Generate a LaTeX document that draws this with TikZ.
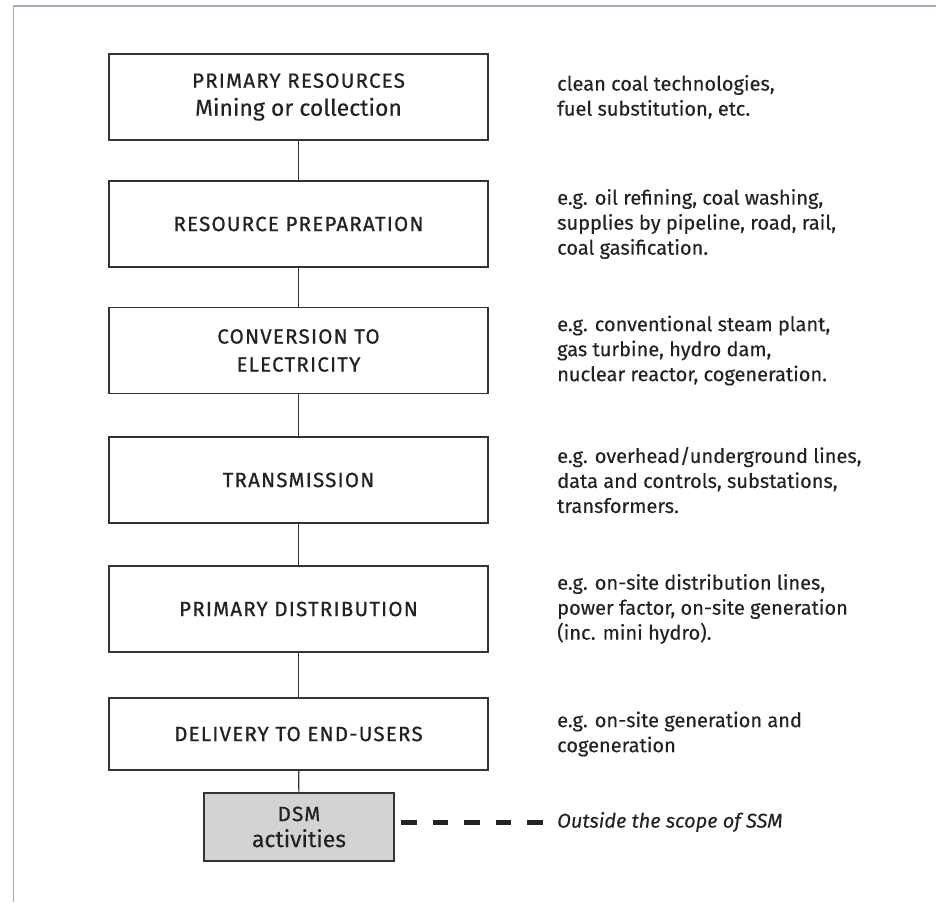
\documentclass[tikz,border=0pt]{standalone}
\usepackage{fontspec}
\setmainfont{Fira Sans}[FakeBold=0.25]
\newfontfamily\capsfont{Fira Sans}[LetterSpace=6,FakeBold=0.8]
\definecolor{framec}{HTML}{A9A5C3}
\definecolor{boxline}{HTML}{333333}
\definecolor{txt}{HTML}{222222}
\definecolor{dsmfill}{HTML}{D3D3D5}
\newcommand{\capsln}[1]{{\capsfont\fontsize{20.5}{28}\selectfont #1}}
\newcommand{\bigln}[1]{{\fontsize{23}{28}\selectfont #1}}
\begin{document}
\begin{tikzpicture}[x=1pt,y=-1pt,
  stage/.style={draw=boxline, line width=1.3pt, minimum width=379pt, minimum height=86pt,
    inner sep=0pt, align=center, text=txt, font=\fontsize{20.5}{28}\selectfont},
  note/.style={anchor=west, align=left, inner sep=0pt, text=txt, font=\fontsize{20}{25}\selectfont},
  conn/.style={draw=boxline, line width=1.1pt},
  framel/.style={draw=framec, line width=1.6pt},
  dashln/.style={draw=txt, line width=5pt, dash pattern=on 15.5pt off 16.1pt}]
\useasboundingbox (0,0) rectangle (936,902);
\draw[framel] (13.5,902) -- (13.5,5.7) -- (936,5.7);

\node[stage] (b1) at (298.5,97) {\capsln{PRIMARY RESOURCES}\\\bigln{Mining or collection}};
\node[stage] (b2) at (298.5,224) {\capsln{RESOURCE PREPARATION}};
\node[stage] (b3) at (298.5,350.5) {\capsln{CONVERSION TO}\\\capsln{ELECTRICITY}};
\node[stage] (b4) at (298.5,480) {\capsln{TRANSMISSION}};
\node[stage] (b5) at (298.5,609) {\capsln{PRIMARY DISTRIBUTION}};
\node[stage, minimum height=72pt] (b6) at (298.5,734) {\capsln{DELIVERY TO END-USERS}};
\node[stage, fill=dsmfill, minimum width=190pt, minimum height=68pt, font=\fontsize{20.5}{26}\selectfont] (dsm) at (299,827) {\capsln{DSM}\\\bigln{activities}};

\draw[conn] (b1) -- (b2);
\draw[conn] (b2) -- (b3);
\draw[conn] (b3) -- (b4);
\draw[conn] (b4) -- (b5);
\draw[conn] (b5) -- (b6);
\draw[conn] (b6) -- (dsm);

\node[note] (n1) at (557,97) {clean coal technologies,\\fuel substitution, etc.};
\node[note] (n2) at (557,224) {e.g. oil refining, coal washing,\\supplies by pipeline, road, rail,\\coal gasification.};
\node[note] (n3) at (557,350.5) {e.g. conventional steam plant,\\gas turbine, hydro dam,\\nuclear reactor, cogeneration.};
\node[note] (n4) at (557,480) {e.g. overhead/underground lines,\\data and controls, substations,\\transformers.};
\node[note] (n5) at (557,609) {e.g. on-site distribution lines,\\power factor, on-site generation\\(inc. mini hydro).};
\node[note] (n6) at (557,734) {e.g. on-site generation and\\cogeneration};
\node[note] (out) at (557,822) {\itshape Outside the scope of SSM};

\coordinate (ds) at (401,822);
\coordinate (de) at (543,822);
\draw[dashln] (ds) -- (de);
\end{tikzpicture}
\end{document}
